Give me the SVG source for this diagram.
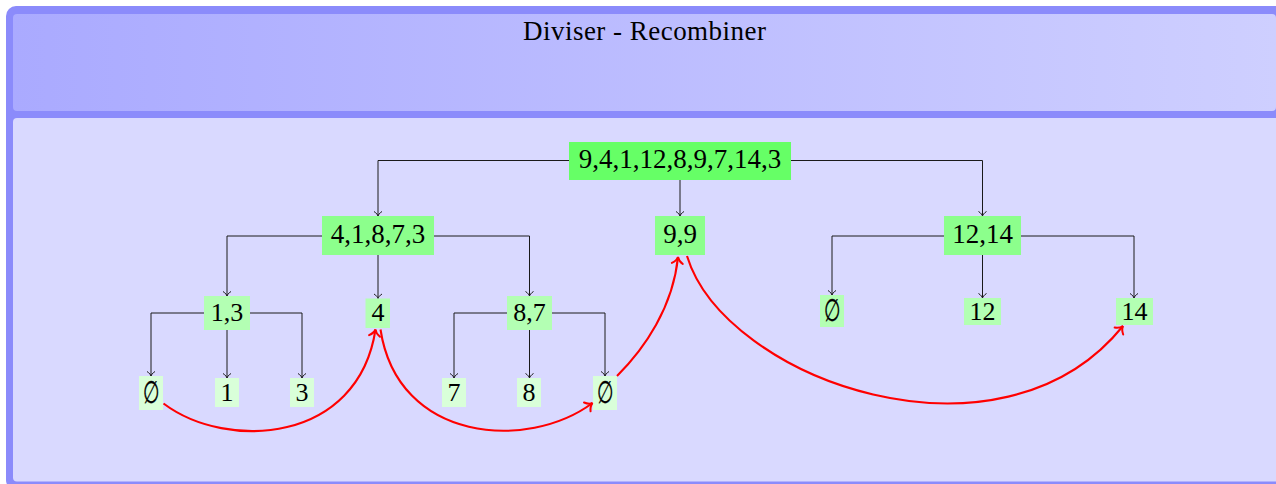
<svg xmlns="http://www.w3.org/2000/svg" width="1276" height="484" viewBox="0 0 1276 484">
  <defs>
    <linearGradient id="titleGrad" x1="13" y1="0" x2="1276" y2="0" gradientUnits="userSpaceOnUse">
      <stop offset="0" stop-color="#aaaaff"/>
      <stop offset="1" stop-color="#cecfff"/>
    </linearGradient>
    <marker id="arrBlack" markerUnits="userSpaceOnUse" viewBox="-10 -10 20 20" markerWidth="20" markerHeight="20" refX="0" refY="0" orient="auto" overflow="visible">
      <path d="M-4.5,-4 C-3,-1.5 -1,-0.3 0,0 C-1,0.3 -3,1.5 -4.5,4" fill="none" stroke="#1a1a1a" stroke-width="1"/>
    </marker>
    <marker id="arrRed" markerUnits="userSpaceOnUse" viewBox="-10 -10 20 20" markerWidth="20" markerHeight="20" refX="0" refY="0" orient="auto" overflow="visible">
      <path d="M-6.5,-5.5 C-4.5,-2.2 -1.6,-0.4 0,0 C-1.6,0.4 -4.5,2.2 -6.5,5.5" fill="none" stroke="#ff0000" stroke-width="2" stroke-linecap="round"/>
    </marker>
  </defs>
  <style>
    .t { font-family: "Liberation Serif", "DejaVu Serif", serif; font-size: 26px; fill: #000; text-anchor: middle; }
    .big { font-size: 27px; }
    .title { font-family: "Liberation Serif", "DejaVu Serif", serif; font-size: 27px; fill: #000; text-anchor: middle; }
    .e { font-family: "DejaVu Serif", serif; font-size: 26px; fill: #000; stroke: #000; stroke-width: 0.25; text-anchor: middle; }
    .l1 { fill: #66ff66; }
    .l2 { fill: #8cff8c; }
    .l3 { fill: #b3ffb3; }
    .l4 { fill: #d9ffd9; }
    .conn path { fill: none; stroke: #1a1a1a; stroke-width: 1; marker-end: url(#arrBlack); }
    .red path { fill: none; stroke: #ff0000; stroke-width: 2.1; marker-end: url(#arrRed); }
  </style>

  <g id="frame">
    <rect x="6" y="6" width="1280" height="484" rx="10" ry="10" fill="#8b8bfb"/>
    <rect x="13" y="14" width="1263" height="97" rx="4" ry="4" fill="url(#titleGrad)"/>
    <rect x="13" y="118" width="1270" height="363.5" rx="4" ry="4" fill="#d9d9ff"/>
    <text x="644.5" y="40" class="title" textLength="243" lengthAdjust="spacing">Diviser - Recombiner</text>
  </g>

  <g id="connectors" class="conn">
    <path d="M569,160.5 H378 V216"/>
    <path d="M680,180 V216"/>
    <path d="M791,160.5 H982.5 V216"/>
    <path d="M322,236 H227 V296"/>
    <path d="M378,255 V298.5"/>
    <path d="M434,236 H529.5 V296"/>
    <path d="M204,313 H151 V376"/>
    <path d="M227,330 V378"/>
    <path d="M250,313 H302 V378"/>
    <path d="M507,313 H454 V378"/>
    <path d="M529.5,330 V378"/>
    <path d="M552,313 H605 V376"/>
    <path d="M944,236 H832 V295"/>
    <path d="M982.5,255 V298"/>
    <path d="M1021,236 H1134 V298"/>
  </g>

  <g id="root"><rect class="l1" x="569" y="142" width="222" height="38"/><text class="t big" x="680" y="167.5">9,4,1,12,8,9,7,14,3</text></g>
  <g id="n41873"><rect class="l2" x="322" y="216" width="112" height="39"/><text class="t big" x="378" y="243">4,1,8,7,3</text></g>
  <g id="n99"><rect class="l2" x="655" y="216" width="50" height="39"/><text class="t big" x="680" y="243">9,9</text></g>
  <g id="n1214"><rect class="l2" x="944" y="216" width="77" height="39"/><text class="t big" x="982.5" y="243">12,14</text></g>

  <g id="n13"><rect class="l3" x="204" y="296" width="46" height="34"/><text class="t" x="227" y="321">1,3</text></g>
  <g id="n4"><rect class="l3" x="365.5" y="298.5" width="24.5" height="29.5"/><text class="t" x="378" y="321">4</text></g>
  <g id="n87"><rect class="l3" x="507" y="296" width="45" height="34"/><text class="t" x="529.5" y="321">8,7</text></g>
  <g id="nEmptyR"><rect class="l3" x="820" y="295" width="24" height="32"/><text class="e" transform="translate(832,320.5) scale(0.72,1.18)">∅</text></g>
  <g id="n12"><rect class="l3" x="964" y="298" width="37" height="27"/><text class="t" x="982.5" y="320">12</text></g>
  <g id="n14"><rect class="l3" x="1116" y="298" width="37" height="27"/><text class="t" x="1134.5" y="320">14</text></g>

  <g id="nEmptyA"><rect class="l4" x="139" y="376" width="24" height="34"/><text class="e" transform="translate(151,402.5) scale(0.72,1.18)">∅</text></g>
  <g id="n1"><rect class="l4" x="215" y="378" width="24" height="29"/><text class="t" x="227" y="401">1</text></g>
  <g id="n3"><rect class="l4" x="290" y="378" width="24" height="29"/><text class="t" x="302" y="401">3</text></g>
  <g id="n7"><rect class="l4" x="442" y="378" width="24" height="29"/><text class="t" x="454" y="401">7</text></g>
  <g id="n8"><rect class="l4" x="517" y="378" width="24" height="29"/><text class="t" x="529" y="401">8</text></g>
  <g id="nEmptyB"><rect class="l4" x="593" y="376" width="24" height="34"/><text class="e" transform="translate(605,402.5) scale(0.72,1.18)">∅</text></g>

  <g id="merges" class="red">
    <path d="M163.5,403.5 C227.5,451.5 358.3,442.9 375.5,329.5"/>
    <path d="M380.5,329.5 C397.8,442.9 528,451 592.5,403"/>
    <path d="M617,376 C645,348 673,307 678,257"/>
    <path d="M687,256 C725,380 1000,478 1123,326"/>
  </g>
</svg>
